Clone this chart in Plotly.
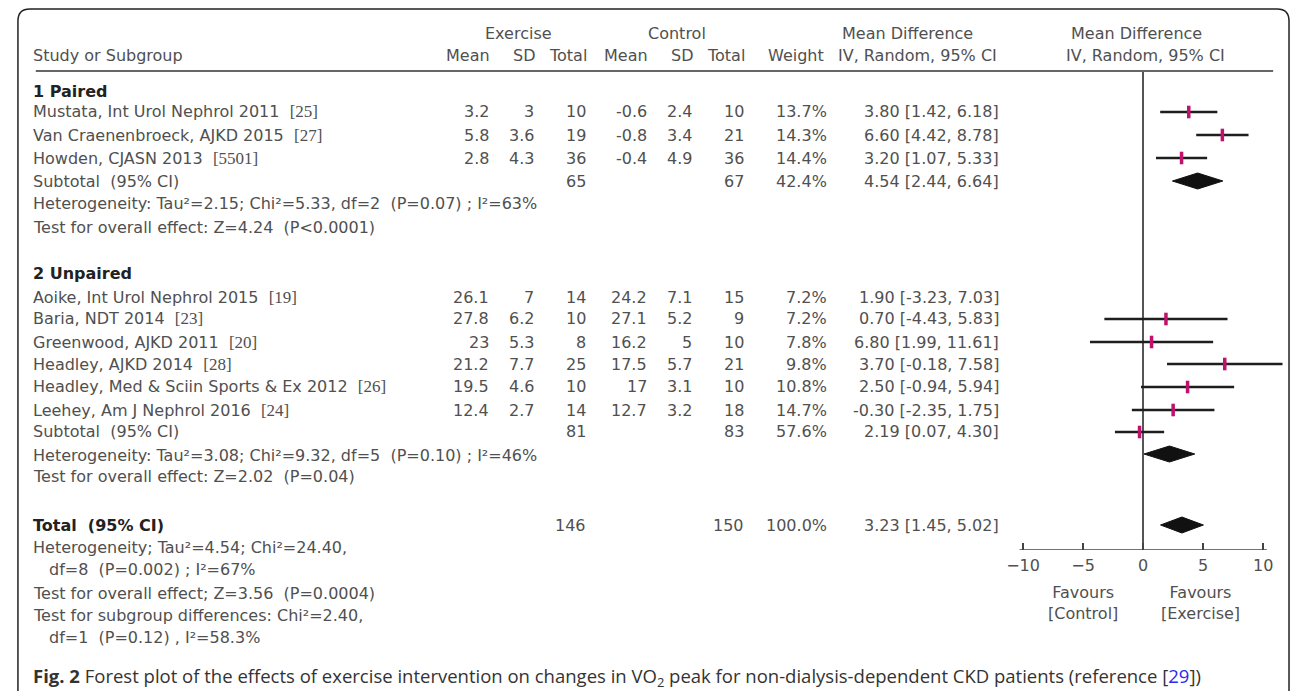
import plotly.graph_objects as go

W, H = 1292, 691

# ---------------- data ----------------
g1_label = "1 Paired"
g1_studies = ["Mustata, Int Urol Nephrol 2011", "Van Craenenbroeck, AJKD 2015", "Howden, CJASN 2013"]
g1_refs = ["[25]", "[27]", "[5501]"]
g1_ex_mean = [3.2, 5.8, 2.8]
g1_ex_sd = [3, 3.6, 4.3]
g1_ex_n = [10, 19, 36]
g1_ct_mean = [-0.6, -0.8, -0.4]
g1_ct_sd = [2.4, 3.4, 4.9]
g1_ct_n = [10, 21, 36]
g1_weight = [13.7, 14.3, 14.4]
g1_md = [3.80, 6.60, 3.20]
g1_lo = [1.42, 4.42, 1.07]
g1_hi = [6.18, 8.78, 5.33]
g1_sub = {"ex_n": 65, "ct_n": 67, "weight": 42.4, "md": 4.54, "lo": 2.44, "hi": 6.64}
g1_het = "Heterogeneity: Tau²=2.15; Chi²=5.33, df=2  (P=0.07) ; I²=63%"
g1_test = "Test for overall effect: Z=4.24  (P<0.0001)"

g2_label = "2 Unpaired"
g2_studies = ["Aoike, Int Urol Nephrol 2015", "Baria, NDT 2014", "Greenwood, AJKD 2011",
              "Headley, AJKD 2014", "Headley, Med & Sciin Sports & Ex 2012", "Leehey, Am J Nephrol 2016"]
g2_refs = ["[19]", "[23]", "[20]", "[28]", "[26]", "[24]"]
g2_ex_mean = [26.1, 27.8, 23, 21.2, 19.5, 12.4]
g2_ex_sd = [7, 6.2, 5.3, 7.7, 4.6, 2.7]
g2_ex_n = [14, 10, 8, 25, 10, 14]
g2_ct_mean = [24.2, 27.1, 16.2, 17.5, 17, 12.7]
g2_ct_sd = [7.1, 5.2, 5, 5.7, 3.1, 3.2]
g2_ct_n = [15, 9, 10, 21, 10, 18]
g2_weight = [7.2, 7.2, 7.8, 9.8, 10.8, 14.7]
g2_md = [1.90, 0.70, 6.80, 3.70, 2.50, -0.30]
g2_lo = [-3.23, -4.43, 1.99, -0.18, -0.94, -2.35]
g2_hi = [7.03, 5.83, 11.61, 7.58, 5.94, 1.75]
g2_sub = {"ex_n": 81, "ct_n": 83, "weight": 57.6, "md": 2.19, "lo": 0.07, "hi": 4.30}
g2_het = "Heterogeneity: Tau²=3.08; Chi²=9.32, df=5  (P=0.10) ; I²=46%"
g2_test = "Test for overall effect: Z=2.02  (P=0.04)"

total = {"ex_n": 146, "ct_n": 150, "weight": 100.0, "md": 3.23, "lo": 1.45, "hi": 5.02}
total_notes = ["Heterogeneity; Tau²=4.54; Chi²=24.40,", "df=8  (P=0.002) ; I²=67%",
               "Test for overall effect; Z=3.56  (P=0.0004)",
               "Test for subgroup differences: Chi²=2.40,", "df=1  (P=0.12) , I²=58.3%"]

tick_vals = [-10, -5, 0, 5, 10]
tick_text = ["−10", "−5", "0", "5", "10"]
favours = ["Favours<br>[Control]", "Favours<br>[Exercise]"]

# ---------------- layout positions (pixels) ----------------
def px(x):
    return x / W

def py(y):
    return 1 - y / H

TXT = "#505050"
FONT = "DejaVu Sans"
FS = 16

col_right = {"ex_mean": 485, "ex_sd": 530, "ex_n": 583, "ct_mean": 644, "ct_sd": 689,
             "ct_n": 742, "weight": 825, "md": 999}
left_x = 21

y_g1_label = 91
y_g1_rows = [112, 135, 158]
y_g1_sub = 181
y_g1_het = 204
y_g1_test = 227
y_g2_label = 273
y_g2_rows = [297, 319, 342, 364, 387, 410]
y_g2_sub = 432
y_g2_het = 455
y_g2_test = 477
y_total = 525
y_total_notes = [547, 569, 593, 615, 637]
x_total_notes = [21, 37, 21, 21, 37]
# forest marks as drawn in the reference (unpaired group drawn one row lower)
y_g1_marks = [112, 135, 158]
y_g1_diam = 181
y_g2_marks = [319, 342, 364, 387, 410, 432]
y_g2_diam = 454
y_total_diam = 525

ann = []

def text(x, y, s, anchor="left", size=FS, color=TXT, bold=False, family=FONT):
    if bold:
        s = "<b>" + s + "</b>"
    ann.append(dict(x=px(x), y=py(y), xref="paper", yref="paper", text=s, showarrow=False,
                    xanchor=anchor, yanchor="middle", align=anchor if anchor != "center" else "center",
                    font=dict(family=family, size=size, color=color)))

def fmt(v):
    return f"{v:g}"

def ref(s):
    return f"<span style='font-family:Liberation Serif;font-size:17px'>{s}</span>"

# headers
text(512, 33, "Exercise", "center")
text(672, 33, "Control", "center")
text(904, 33, "Mean Difference", "center")
text(1135, 33, "Mean Difference", "center")
text(left_x, 55, "Study or Subgroup")
for key, lab in [("ex_mean", "Mean"), ("ex_sd", "SD"), ("ex_n", "Total"), ("ct_mean", "Mean"),
                 ("ct_sd", "SD"), ("ct_n", "Total"), ("weight", "Weight")]:
    text(col_right[key] + (1 if key != "weight" else -3), 55, lab, "right")
text(832, 55, "IV, Random, 95% CI")
text(1062, 55, "IV, Random, 95% CI")

def study_rows(studies, refs, exm, exs, exn, ctm, cts, ctn, wt, md, lo, hi, ys):
    for i, y in enumerate(ys):
        text(left_x, y, studies[i] + "  " + ref(refs[i]))
        text(col_right["ex_mean"], y, fmt(exm[i]), "right")
        text(col_right["ex_sd"], y, fmt(exs[i]), "right")
        text(col_right["ex_n"], y, fmt(exn[i]), "right")
        text(col_right["ct_mean"], y, fmt(ctm[i]), "right")
        text(col_right["ct_sd"], y, fmt(cts[i]), "right")
        text(col_right["ct_n"], y, fmt(ctn[i]), "right")
        text(col_right["weight"], y, f"{wt[i]:.1f}%", "right")
        text(col_right["md"], y, f"{md[i]:.2f} [{lo[i]:.2f}, {hi[i]:.2f}]", "right")

def sub_row(y, d, label, bold=False):
    text(left_x, y, label, bold=bold, color="#222" if bold else TXT)
    text(col_right["ex_n"], y, fmt(d["ex_n"]), "right")
    text(col_right["ct_n"], y, fmt(d["ct_n"]), "right")
    text(col_right["weight"], y, f"{d['weight']:.1f}%", "right")
    text(col_right["md"], y, f"{d['md']:.2f} [{d['lo']:.2f}, {d['hi']:.2f}]", "right")

text(left_x, y_g1_label, g1_label, bold=True, color="#222")
study_rows(g1_studies, g1_refs, g1_ex_mean, g1_ex_sd, g1_ex_n, g1_ct_mean, g1_ct_sd, g1_ct_n,
           g1_weight, g1_md, g1_lo, g1_hi, y_g1_rows)
sub_row(y_g1_sub, g1_sub, "Subtotal  (95% CI)")
text(left_x, y_g1_het, g1_het)
text(left_x, y_g1_test, g1_test)

text(left_x, y_g2_label, g2_label, bold=True, color="#222")
study_rows(g2_studies, g2_refs, g2_ex_mean, g2_ex_sd, g2_ex_n, g2_ct_mean, g2_ct_sd, g2_ct_n,
           g2_weight, g2_md, g2_lo, g2_hi, y_g2_rows)
sub_row(y_g2_sub, g2_sub, "Subtotal  (95% CI)")
text(left_x, y_g2_het, g2_het)
text(left_x, y_g2_test, g2_test)

sub_row(y_total, total, "Total  (95% CI)", bold=True)
for s, x, y in zip(total_notes, x_total_notes, y_total_notes):
    text(x, y, s)

text(1081, 603, favours[0], "center")
text(1200, 603, favours[1], "center")

# caption
ann.append(dict(x=px(21), y=py(677), xref="paper", yref="paper", showarrow=False,
                xanchor="left", yanchor="middle",
                text="<b>Fig. 2</b> Forest plot of the effects of exercise intervention on changes in VO<sub>2</sub> peak "
                     "for non-dialysis-dependent CKD patients (reference [<span style='color:#2b2bf0'>29</span>])",
                font=dict(family="Open Sans", size=18.5, color="#333")))

# ---------------- forest traces ----------------
fig = go.Figure()

def ci_trace(lo, hi, ys):
    xs, yy = [], []
    for a, b, y in zip(lo, hi, ys):
        xs += [a, b, None]
        yy += [y, y, None]
    fig.add_trace(go.Scatter(x=xs, y=yy, mode="lines", line=dict(color="#1e1e1e", width=2.6),
                             hoverinfo="skip", showlegend=False))

def point_trace(md, ys):
    fig.add_trace(go.Scatter(x=md, y=ys, mode="markers", showlegend=False,
                             marker=dict(symbol="line-ns", size=9,
                                         line=dict(color="#c0116c", width=3.5))))

def diamond(d, y, hh=8):
    fig.add_trace(go.Scatter(x=[d["lo"], d["md"], d["hi"], d["md"], d["lo"]],
                             y=[y, y - hh, y, y + hh, y], mode="lines", fill="toself",
                             fillcolor="#111", line=dict(color="#111", width=1),
                             hoverinfo="skip", showlegend=False))

ci_trace(g1_lo, g1_hi, y_g1_marks)
point_trace(g1_md, y_g1_marks)
diamond(g1_sub, y_g1_diam)
ci_trace(g2_lo, g2_hi, y_g2_marks)
point_trace(g2_md, y_g2_marks)
diamond(g2_sub, y_g2_diam)
diamond(total, y_total_diam)

# axis mapping: -10 -> 1021 px, 10 -> 1263 px
ppu = (1263 - 1021) / 20
xr = [-10.6, 12.4]
dom_l = 1021 + (xr[0] + 10) * ppu
dom_r = 1021 + (xr[1] + 10) * ppu

shapes = []
# axis line
shapes.append(dict(type="line", xref="x", yref="y", x0=-10.3, x1=10.3, y0=550, y1=550,
                   line=dict(color="#444", width=1.5)))
# header rule
shapes.append(dict(type="line", xref="paper", yref="paper", x0=px(26), x1=px(1273), y0=py(71), y1=py(71),
                   line=dict(color="#666", width=2)))
# rounded border
r = 12
x0b, x1b, y0b, yb = 8, 1289, 9, 700
path = (f"M {px(x0b)},{py(yb)} L {px(x0b)},{py(y0b + r)} Q {px(x0b)},{py(y0b)} {px(x0b + r)},{py(y0b)} "
        f"L {px(x1b - r)},{py(y0b)} Q {px(x1b)},{py(y0b)} {px(x1b)},{py(y0b + r)} L {px(x1b)},{py(yb)}")
shapes.append(dict(type="path", xref="paper", yref="paper", path=path, line=dict(color="#222", width=1.5)))

fig.update_layout(
    width=W, height=H, margin=dict(l=0, r=0, t=0, b=0),
    paper_bgcolor="white", plot_bgcolor="rgba(0,0,0,0)",
    annotations=ann, shapes=shapes, showlegend=False,
    xaxis=dict(domain=[dom_l / W, min(dom_r / W, 1)], range=xr, showgrid=False,
               zeroline=True, zerolinecolor="#555", zerolinewidth=1.5,
               showline=False, ticks="inside", ticklen=7, tickwidth=1.5, tickcolor="#444",
               tickvals=tick_vals, ticktext=tick_text, ticklabelstandoff=4,
               tickfont=dict(family=FONT, size=FS, color=TXT), fixedrange=True),
    yaxis=dict(domain=[1 - 550 / H, 1 - 72 / H], range=[550, 72], visible=False, fixedrange=True),
)

fig.write_html("out.html", config={"displayModeBar": False},
               post_script="document.body.style.margin='0';document.body.style.overflow='hidden';")
